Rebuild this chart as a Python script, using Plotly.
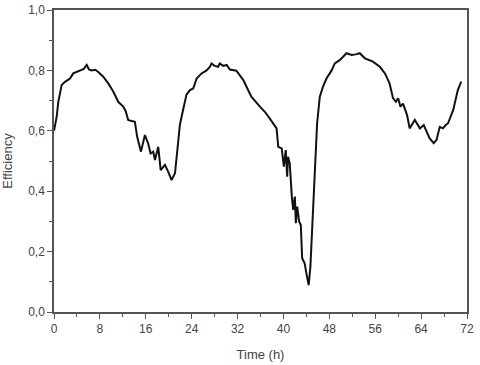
import plotly.graph_objects as go

# Efficiency trace (time in hours)
time_h = [
    0.0, 0.47, 0.75, 1.34, 1.92, 2.79, 3.36, 4.53, 5.2, 5.7, 6.1, 6.57, 7.2, 7.72,
    8.59, 9.46, 10.33, 11.2, 12.07, 12.5, 12.93, 13.4, 14.1, 14.5, 15.16, 15.85,
    16.4, 16.84, 17.3, 17.6, 18.17, 18.6, 19.34, 19.9, 20.5, 21.1, 21.66, 21.95,
    22.5, 23.1, 23.7, 24.27, 24.86, 25.73, 26.6, 27.2, 27.47, 28.0, 28.6, 28.9,
    29.5, 30.1, 30.66, 31.8, 33.0, 34.4, 35.9, 36.76, 37.6, 38.8, 39.1, 39.7,
    40.07, 40.4, 40.65, 40.8, 41.1, 41.3, 41.46, 41.7, 41.99, 42.16, 42.4, 42.74,
    43.03, 43.26, 43.7, 44.0, 44.4, 44.7, 45.07, 45.47, 45.87, 46.34, 46.9, 47.5,
    48.4, 48.95, 49.8, 51.0, 51.9, 52.6, 53.3, 54.2, 55.6, 56.8, 57.7, 58.5, 59.1,
    59.6, 60.0, 60.4, 60.85, 61.55, 62.0, 62.9, 63.8, 64.46, 64.93, 65.5, 66.2,
    66.7, 67.25, 67.8, 68.3, 68.7, 69.6, 70.4, 71.0,
]
efficiency = [
    0.60, 0.647, 0.696, 0.752, 0.762, 0.773, 0.790, 0.800, 0.805, 0.818, 0.803, 0.800, 0.802, 0.795,
    0.779, 0.757, 0.730, 0.696, 0.680, 0.665, 0.636, 0.633, 0.630, 0.580, 0.531, 0.586,
    0.559, 0.525, 0.531, 0.503, 0.547, 0.470, 0.487, 0.465, 0.437, 0.460, 0.570, 0.620,
    0.669, 0.720, 0.735, 0.740, 0.773, 0.790, 0.800, 0.812, 0.823, 0.815, 0.812, 0.823,
    0.815, 0.818, 0.803, 0.799, 0.768, 0.713, 0.680, 0.663, 0.641, 0.608, 0.547, 0.542,
    0.481, 0.536, 0.448, 0.514, 0.492, 0.404, 0.382, 0.338, 0.382, 0.294, 0.349, 0.299,
    0.288, 0.178, 0.161, 0.128, 0.089, 0.150, 0.294, 0.481, 0.625, 0.713, 0.746, 0.773,
    0.800, 0.823, 0.834, 0.857, 0.851, 0.853, 0.857, 0.840, 0.829, 0.812, 0.790, 0.757, 0.708,
    0.696, 0.708, 0.680, 0.690, 0.652, 0.608, 0.636, 0.608, 0.619, 0.597, 0.575, 0.559,
    0.570, 0.613, 0.608, 0.619, 0.625, 0.669, 0.735, 0.763,
]

x_ticks = [0, 8, 16, 24, 32, 40, 48, 56, 64, 72]
y_ticks = [0.0, 0.2, 0.4, 0.6, 0.8, 1.0]
y_tick_labels = ["0,0", "0,2", "0,4", "0,6", "0,8", "1,0"]

axis_color = "#555555"
text_color = "#444444"

fig = go.Figure(
    go.Scatter(
        x=time_h,
        y=efficiency,
        mode="lines",
        line={"color": "#111111", "width": 2},
        showlegend=False,
    )
)

common_axis = dict(
    showline=True,
    linecolor=axis_color,
    linewidth=1.5,
    mirror=True,
    showgrid=False,
    zeroline=False,
    automargin=False,
    ticklabeloverflow="allow",
    ticks="outside",
    ticklen=5,
    tickwidth=1.2,
    tickcolor=axis_color,
    tickfont={"size": 12, "color": text_color},
)

fig.update_xaxes(
    range=[0, 72],
    tickvals=x_ticks,
    title={"text": "Time (h)", "font": {"size": 13, "color": text_color}, "standoff": 15},
    minor={"dtick": 4, "ticks": "outside", "ticklen": 3, "tickcolor": axis_color, "tickwidth": 1.2},
    **common_axis,
)
fig.update_yaxes(
    range=[0, 1.0],
    tickvals=y_ticks,
    ticktext=y_tick_labels,
    title={"text": "Efficiency", "font": {"size": 13, "color": text_color}, "standoff": 14},
    minor={"dtick": 0.1, "ticks": "outside", "ticklen": 3, "tickcolor": axis_color, "tickwidth": 1.2},
    **common_axis,
)

fig.update_layout(
    width=480,
    height=365,
    margin={"l": 54, "r": 13, "t": 10, "b": 53},
    paper_bgcolor="white",
    plot_bgcolor="white",
    font={"family": "Liberation Sans, Arial, sans-serif"},
)

# the page body has a default 8px margin; drop it so the figure sits at the window origin
fig.write_html(
    "out.html",
    config={"displayModeBar": False},
    post_script="document.body.style.margin = '0';",
)
